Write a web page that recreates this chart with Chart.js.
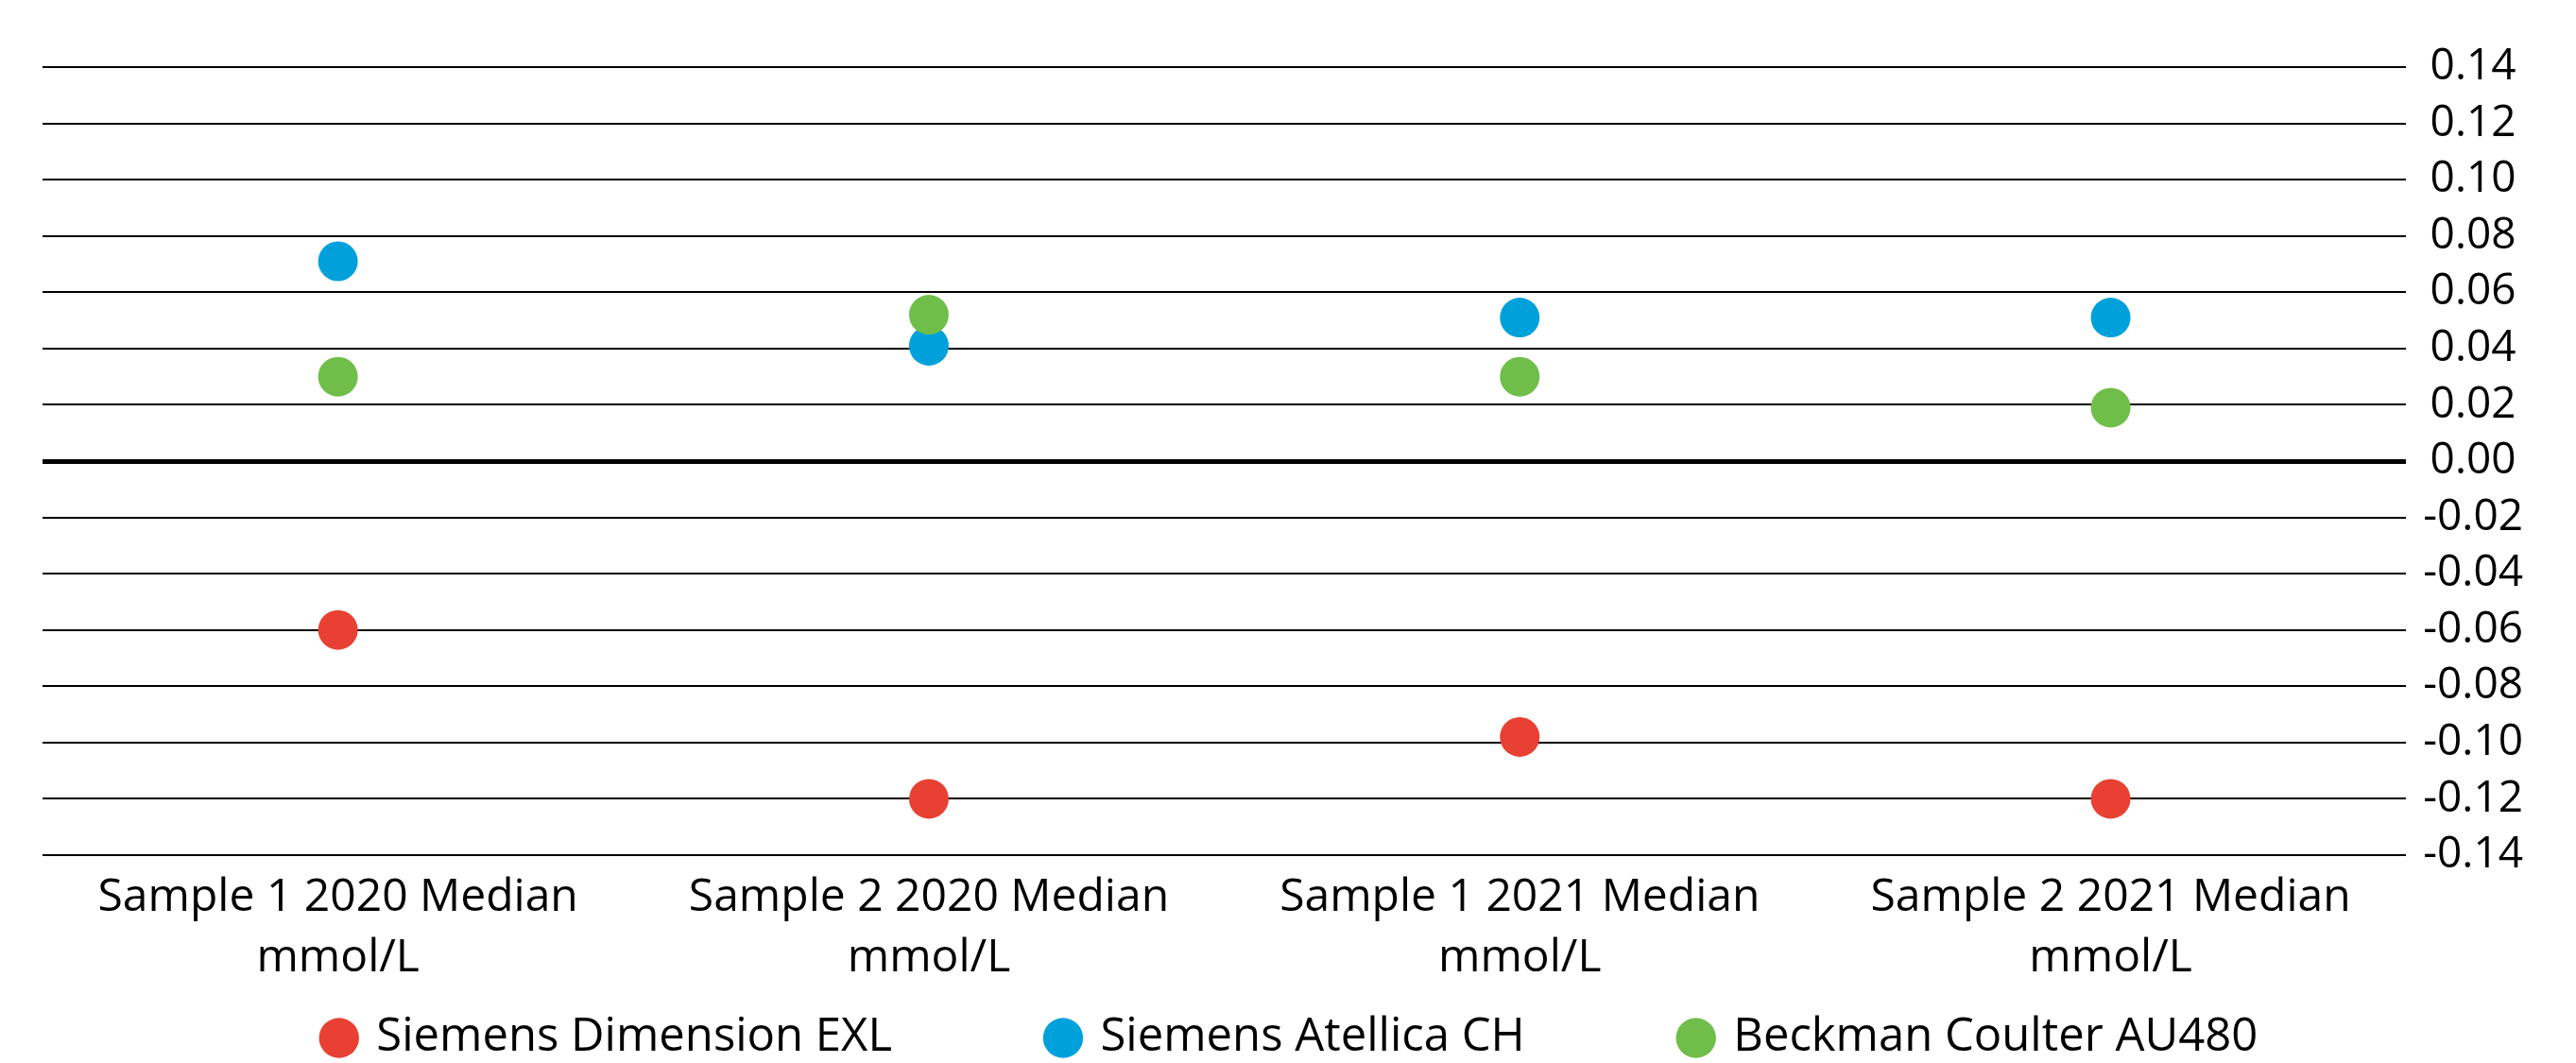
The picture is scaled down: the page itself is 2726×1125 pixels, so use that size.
<!DOCTYPE html>
<html>
<head>
<meta charset="utf-8">
<script src="https://cdn.jsdelivr.net/npm/chart.js@4"></script>
<style>
  html, body { margin: 0; padding: 0; background: #fff; }
  #wrap { width: 2726px; height: 1125px; position: relative; }
</style>
</head>
<body>
<div id="wrap"><canvas id="chart"></canvas></div>
<script>
// Categories (two-line labels)
const categories = [
  ['Sample 1 2020 Median', 'mmol/L'],
  ['Sample 2 2020 Median', 'mmol/L'],
  ['Sample 1 2021 Median', 'mmol/L'],
  ['Sample 2 2021 Median', 'mmol/L']
];

// Series values
const dimensionEXL = [-0.06, -0.12, -0.098, -0.12];
const atellicaCH = [0.071, 0.041, 0.051, 0.051];
const beckmanAU480 = [0.030, 0.052, 0.030, 0.019];

// Y axis ticks
const yMin = -0.14;
const yMax = 0.14;
const yStep = 0.02;

const FONT = "'Open Sans', sans-serif";
const X_AXIS_HEIGHT = 145;
// legend padding is wide for horizontal spacing; take back the vertical part
const LEGEND_CUT = 150;
const LEGEND_LIFT = 142;

function series(label, data, color, order) {
  return {
    label: label,
    data: data,
    showLine: false,
    order: order,
    pointRadius: 21,
    pointHoverRadius: 21,
    pointBackgroundColor: color,
    pointBorderWidth: 0,
    borderColor: color,
    backgroundColor: color
  };
}

const legendTighten = {
  id: 'legendTighten',
  afterInit(chart) {
    const lg = chart.legend;
    if (!lg) return;
    const fit = lg.fit.bind(lg);
    const draw = lg.draw.bind(lg);
    lg.fit = function () {
      fit();
      lg.height = Math.max(0, lg.height - LEGEND_CUT);
    };
    lg.draw = function () {
      const top = lg.top;
      lg.top = top - LEGEND_LIFT;
      draw();
      lg.top = top;
    };
  }
};

const ctx = document.getElementById('chart').getContext('2d');
new Chart(ctx, {
  type: 'line',
  data: {
    labels: categories,
    datasets: [
      series('Siemens Dimension EXL', dimensionEXL, '#e84133', 2),
      series('Siemens Atellica CH', atellicaCH, '#00a1db', 1),
      series('Beckman Coulter AU480', beckmanAU480, '#6fbe4a', 0)
    ]
  },
  plugins: [legendTighten],
  options: {
    responsive: true,
    maintainAspectRatio: false,
    animation: false,
    layout: { padding: { left: 45, right: 38, top: 71, bottom: 0 } },
    plugins: {
      tooltip: { enabled: false },
      legend: {
        position: 'bottom',
        labels: {
          usePointStyle: true,
          pointStyle: 'circle',
          boxWidth: 30,
          boxHeight: 30,
          padding: 166,
          color: '#000',
          font: { family: FONT, size: 49 },
          sort: (a, b) => a.datasetIndex - b.datasetIndex
        }
      }
    },
    scales: {
      x: {
        offset: true,
        grid: { display: false, drawTicks: false },
        border: { display: false },
        afterFit: scale => { scale.height = X_AXIS_HEIGHT; },
        ticks: {
          color: '#000',
          font: { family: FONT, size: 48, lineHeight: 1.34 },
          padding: 13,
          maxRotation: 0,
          autoSkip: false
        }
      },
      y: {
        position: 'right',
        min: yMin,
        max: yMax,
        border: { display: false },
        grid: {
          color: '#000',
          drawTicks: false,
          lineWidth: c => (Math.abs(c.tick.value) < 1e-9 ? 5 : 2)
        },
        ticks: {
          stepSize: yStep,
          color: '#000',
          padding: 18,
          crossAlign: 'center',
          font: { family: FONT, size: 46 },
          callback: v => v.toFixed(2)
        }
      }
    }
  }
});
</script>
</body>
</html>
